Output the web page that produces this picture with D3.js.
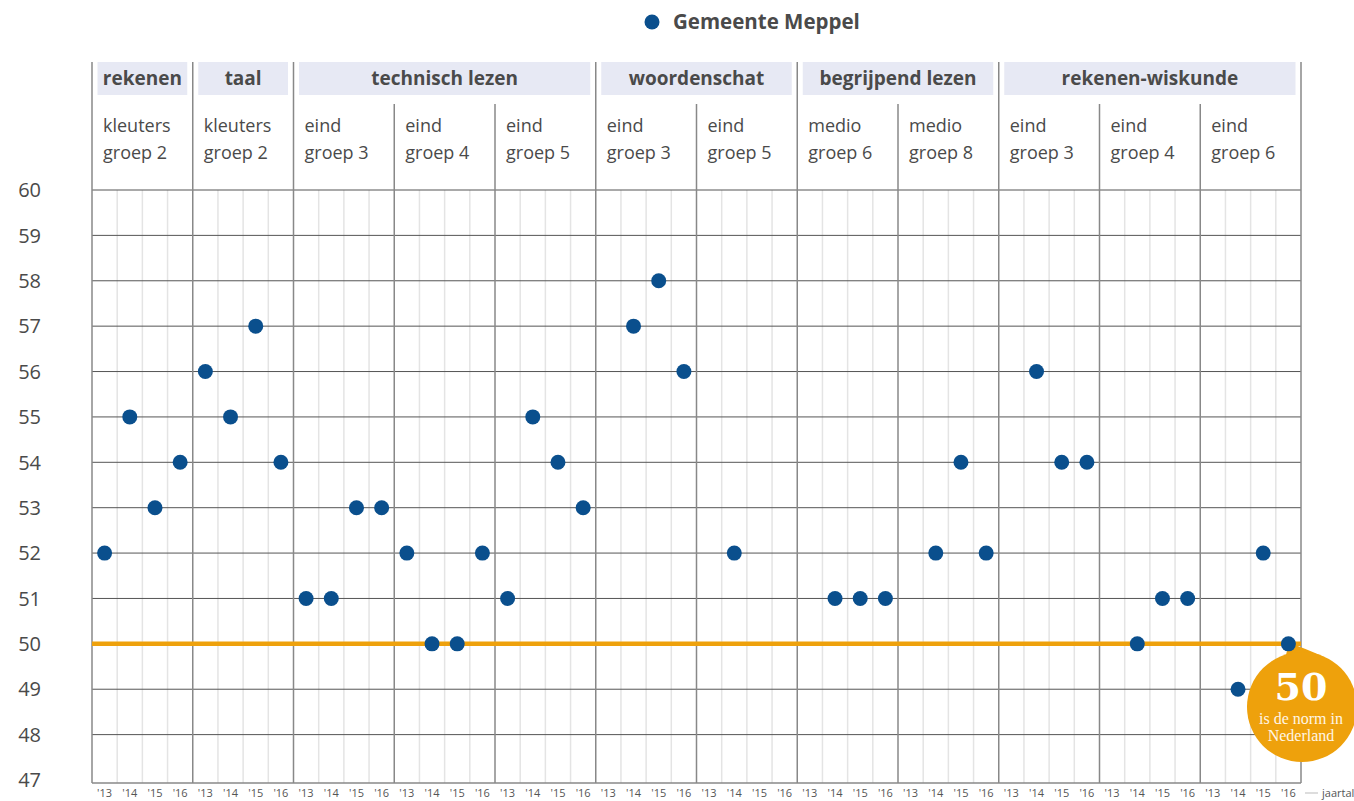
<!DOCTYPE html>
<html>
<head>
<meta charset="utf-8">
<script src="https://cdn.jsdelivr.net/npm/d3@7"></script>
<style>
  body { margin: 0; background: #fff; }
  svg { display: block; font-family: "Open Sans", Lato, sans-serif; }
</style>
</head>
<body>
<div id="chart"></div>
<script>
// subjects and how many panels each spans
var subjects = ["rekenen", "taal", "technisch lezen", "woordenschat", "begrijpend lezen", "rekenen-wiskunde"];
var subjectPanels = [1, 1, 3, 2, 2, 3];

var panelTop = ["kleuters", "kleuters", "eind", "eind", "eind", "eind", "eind", "medio", "medio", "eind", "eind", "eind"];
var panelBottom = ["groep 2", "groep 2", "groep 3", "groep 4", "groep 5", "groep 3", "groep 5", "groep 6", "groep 8", "groep 3", "groep 4", "groep 6"];

var years = ["'13", "'14", "'15", "'16"];

// Gemeente Meppel score per panel, per year (null = no measurement)
var meppel = [
  [52, 55, 53, 54],
  [56, 55, 57, 54],
  [51, 51, 53, 53],
  [52, 50, 50, 52],
  [51, 55, 54, 53],
  [null, 57, 58, 56],
  [null, 52, null, null],
  [null, 51, 51, 51],
  [null, 52, 54, 52],
  [null, 56, 54, 54],
  [null, 50, 51, 51],
  [null, 49, 52, 50]
];

var yTicks = [47, 48, 49, 50, 51, 52, 53, 54, 55, 56, 57, 58, 59, 60];
var norm = 50;

var W = 1354, H = 801;
var blue = "#0a4f8d", orange = "#eea10c", textCol = "#4a4a4a";

var svg = d3.select("#chart").append("svg")
  .attr("width", W).attr("height", H);

var nPanels = panelTop.length;
var nSlots = nPanels * years.length;

var x = d3.scaleLinear().domain([0, nSlots]).range([92, 1301]);
var y = d3.scaleLinear().domain([47, 60]).range([780, 190]);
var bottom = y(47) + 3;

// legend
svg.append("circle").attr("cx", 652).attr("cy", 22).attr("r", 7.5).attr("fill", blue);
svg.append("text").attr("x", 673).attr("y", 29)
  .attr("font-size", 20.5).attr("font-weight", "bold").attr("fill", textCol)
  .text("Gemeente Meppel");

// minor lines between years
for (var s = 0; s < nSlots; s++) {
  if (s % years.length === 0) continue;
  svg.append("line")
    .attr("x1", x(s)).attr("x2", x(s))
    .attr("y1", y(60)).attr("y2", bottom)
    .attr("stroke", "#e4e4e4").attr("stroke-width", 1.5);
}

// horizontal grid lines
svg.selectAll(".grid").data(yTicks.filter(function(d) { return d > 47; }))
  .enter().append("line")
  .attr("x1", x(0)).attr("x2", x(nSlots))
  .attr("y1", function(d) { return y(d); }).attr("y2", function(d) { return y(d); })
  .attr("stroke", "#555").attr("stroke-width", 1);
svg.append("line")
  .attr("x1", x(0)).attr("x2", x(nSlots)).attr("y1", bottom).attr("y2", bottom)
  .attr("stroke", "#888").attr("stroke-width", 1.5);

// y labels
svg.selectAll(".ylab").data(yTicks).enter().append("text")
  .attr("x", 41).attr("y", function(d) { return y(d); })
  .attr("dy", "0.36em").attr("text-anchor", "end")
  .attr("font-size", 20).attr("fill", textCol)
  .text(function(d) { return d; });

// subject headers and major separators
var start = 0;
subjects.forEach(function(name, i) {
  var x0 = x(start * years.length), x1 = x((start + subjectPanels[i]) * years.length);
  svg.append("rect")
    .attr("x", x0 + 5.5).attr("y", 62)
    .attr("width", x1 - x0 - 11).attr("height", 33)
    .attr("fill", "#e7e9f4");
  svg.append("text")
    .attr("x", (x0 + x1) / 2).attr("y", 85)
    .attr("text-anchor", "middle").attr("font-size", 19).attr("font-weight", "bold")
    .attr("fill", textCol).text(name);
  svg.append("line")
    .attr("x1", x0).attr("x2", x0).attr("y1", 62).attr("y2", bottom)
    .attr("stroke", "#888").attr("stroke-width", 1.5);
  // sub-panel separators
  for (var p = 1; p < subjectPanels[i]; p++) {
    var xp = x((start + p) * years.length);
    svg.append("line")
      .attr("x1", xp).attr("x2", xp).attr("y1", 104).attr("y2", bottom)
      .attr("stroke", "#888").attr("stroke-width", 1.5);
  }
  start += subjectPanels[i];
});
svg.append("line")
  .attr("x1", x(nSlots)).attr("x2", x(nSlots)).attr("y1", 62).attr("y2", bottom)
  .attr("stroke", "#888").attr("stroke-width", 1.5);

// panel labels
panelTop.forEach(function(t, i) {
  var px = x(i * years.length) + 11;
  svg.append("text").attr("x", px).attr("y", 132)
    .attr("font-size", 18).attr("fill", textCol).text(t);
  svg.append("text").attr("x", px).attr("y", 159)
    .attr("font-size", 18).attr("fill", textCol).text(panelBottom[i]);
});

// year labels
for (var k = 0; k < nSlots; k++) {
  svg.append("text")
    .attr("x", x(k + 0.5)).attr("y", 797)
    .attr("text-anchor", "middle").attr("font-size", 11).attr("fill", "#555")
    .text(years[k % years.length]);
}
svg.append("line").attr("x1", 1305).attr("x2", 1318).attr("y1", 793).attr("y2", 793)
  .attr("stroke", "#bbb").attr("stroke-width", 1);
svg.append("text").attr("x", 1322).attr("y", 797)
  .attr("font-size", 11).attr("fill", "#555").text("jaartal");

// norm line
svg.append("line")
  .attr("x1", x(0)).attr("x2", x(nSlots)).attr("y1", y(norm)).attr("y2", y(norm))
  .attr("stroke", orange).attr("stroke-width", 4.5);

// points
var points = [];
meppel.forEach(function(row, p) {
  row.forEach(function(v, j) {
    if (v !== null) points.push({ slot: p * years.length + j, value: v });
  });
});

// norm badge
var cx = 1302, cy = 707, r = 55;
var tipX = x(nSlots - 0.5) + 3, tipY = y(norm);
svg.append("path")
  .attr("d", "M" + (cx - 16) + "," + (cy - r + 3) +
    " Q" + (tipX - 4) + "," + (tipY + 4) + " " + tipX + "," + tipY +
    " Q" + (tipX + 12) + "," + (tipY + 4) + " " + (cx + 22) + "," + (cy - r + 5) + " Z")
  .attr("fill", orange);
svg.append("circle").attr("cx", cx).attr("cy", cy).attr("r", r).attr("fill", orange);

svg.selectAll(".dot").data(points).enter().append("circle")
  .attr("cx", function(d) { return x(d.slot + 0.5); })
  .attr("cy", function(d) { return y(d.value); })
  .attr("r", 7.5).attr("fill", blue);

svg.append("text").attr("x", cx - 1).attr("y", 700)
  .attr("text-anchor", "middle").attr("font-family", "'DejaVu Serif', 'Liberation Serif', serif")
  .attr("font-weight", "bold").attr("font-size", 38).attr("fill", "#fff").text(norm);
svg.append("text").attr("x", cx - 1).attr("y", 724)
  .attr("text-anchor", "middle").attr("font-family", "'Liberation Serif', serif")
  .attr("font-size", 16).attr("fill", "#fff6e6").text("is de norm in");
svg.append("text").attr("x", cx - 1).attr("y", 741)
  .attr("text-anchor", "middle").attr("font-family", "'Liberation Serif', serif")
  .attr("font-size", 16).attr("fill", "#fff6e6").text("Nederland");
</script>
</body>
</html>
